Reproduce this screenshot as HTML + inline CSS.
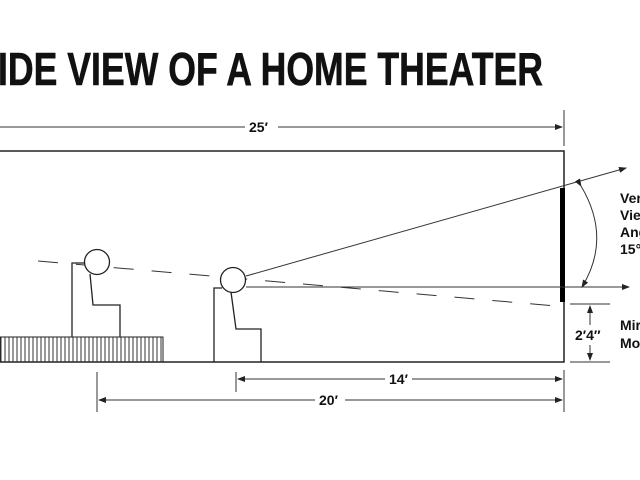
<!DOCTYPE html>
<html><head><style>
html,body{margin:0;padding:0;background:#fff;}
svg{display:block;}
text{font-family:"Liberation Sans Narrow","Liberation Sans",sans-serif;font-weight:bold;fill:#111;}
</style></head><body>
<svg width="640" height="480" viewBox="0 0 640 480" xmlns="http://www.w3.org/2000/svg">
<defs>
<marker id="a" markerWidth="8" markerHeight="6" refX="7" refY="3" orient="auto" markerUnits="userSpaceOnUse"><path d="M0,0 L8,3 L0,6 z" fill="#222"/></marker>
<pattern id="h" width="4" height="26" patternUnits="userSpaceOnUse"><line x1="1" y1="0" x2="1" y2="26" stroke="#333" stroke-width="1"/></pattern>
</defs>
<text x="-2" y="85" font-size="46" textLength="545" lengthAdjust="spacingAndGlyphs" stroke="#111" stroke-width="0.6">IDE VIEW OF A HOME THEATER</text>
<!-- 25' -->
<line x1="0" y1="127" x2="245" y2="127" stroke="#333" stroke-width="1"/>
<line x1="278" y1="127" x2="562" y2="127" stroke="#333" stroke-width="1" marker-end="url(#a)"/>
<text x="249" y="132" font-size="14">25′</text>
<line x1="564" y1="110" x2="564" y2="146" stroke="#333"/>
<!-- room -->
<polyline points="0,151 564,151 564,362 0,362" fill="none" stroke="#222" stroke-width="1.5"/>
<rect x="560" y="188" width="5" height="114" fill="#000"/>
<!-- platform -->
<rect x="0" y="337" width="163" height="25" fill="url(#h)" stroke="#222" stroke-width="1"/>
<!-- dashed sight line -->
<line x1="38" y1="261" x2="556" y2="306" stroke="#333" stroke-width="1" stroke-dasharray="20,18"/>
<!-- chair1 -->
<polyline points="85,263 72,263 72,337" fill="none" stroke="#222" stroke-width="1.3"/>
<polyline points="90,274 93,305 120,305 120,337" fill="none" stroke="#222" stroke-width="1.3"/>
<circle cx="97" cy="262" r="12.5" fill="#fff" stroke="#222" stroke-width="1.3"/>
<!-- chair2 -->
<polyline points="222,288 214,288 214,362" fill="none" stroke="#222" stroke-width="1.3"/>
<polyline points="231,292 236,329 261,329 261,362" fill="none" stroke="#222" stroke-width="1.3"/>
<circle cx="233" cy="280" r="12.5" fill="#fff" stroke="#222" stroke-width="1.3"/>
<!-- rays -->
<line x1="246" y1="276" x2="626" y2="168" stroke="#333" stroke-width="1" marker-end="url(#a)"/>
<line x1="246" y1="287" x2="629" y2="287" stroke="#333" stroke-width="1" marker-end="url(#a)"/>
<!-- arc -->
<path d="M581,186 Q612,238 582,287" fill="none" stroke="#333" stroke-width="1" marker-start="url(#a)" marker-end="url(#a)"/>
<text x="620" y="203" font-size="14">Ver</text>
<text x="620" y="220" font-size="14">Vie</text>
<text x="620" y="237" font-size="14">Ang</text>
<text x="620" y="254" font-size="14">15°</text>
<!-- 2'4" -->
<line x1="570" y1="304" x2="610" y2="304" stroke="#333"/>
<line x1="570" y1="362" x2="610" y2="362" stroke="#333"/>
<line x1="590" y1="325" x2="590" y2="306" stroke="#333" marker-end="url(#a)"/>
<line x1="590" y1="345" x2="590" y2="360" stroke="#333" marker-end="url(#a)"/>
<text x="575" y="340" font-size="14">2′4″</text>
<text x="620" y="330" font-size="14">Mir</text>
<text x="620" y="348" font-size="14">Mo</text>
<!-- 14' -->
<line x1="236" y1="372" x2="236" y2="392" stroke="#333"/>
<line x1="385" y1="379" x2="238" y2="379" stroke="#333" marker-end="url(#a)"/>
<line x1="412" y1="379" x2="562" y2="379" stroke="#333" marker-end="url(#a)"/>
<text x="389" y="384" font-size="14">14′</text>
<!-- 20' -->
<line x1="97" y1="372" x2="97" y2="412" stroke="#333"/>
<line x1="564" y1="370" x2="564" y2="412" stroke="#333"/>
<line x1="315" y1="400" x2="99" y2="400" stroke="#333" marker-end="url(#a)"/>
<line x1="345" y1="400" x2="562" y2="400" stroke="#333" marker-end="url(#a)"/>
<text x="319" y="405" font-size="14">20′</text>
</svg>
</body></html>
